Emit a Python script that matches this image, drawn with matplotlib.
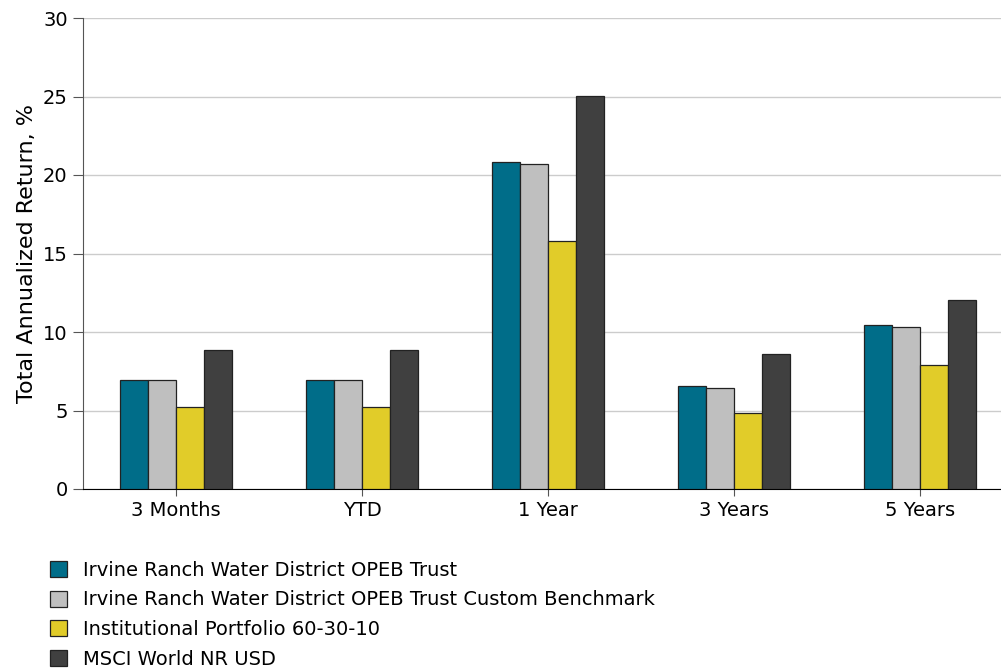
import numpy as np
import matplotlib
matplotlib.use("Agg")
import matplotlib.pyplot as plt
from matplotlib.patches import Patch

############### data ################
periods = ["3 Months", "YTD", "1 Year", "3 Years", "5 Years"]
series_names = [
    "Irvine Ranch Water District OPEB Trust",
    "Irvine Ranch Water District OPEB Trust Custom Benchmark",
    "Institutional Portfolio 60-30-10",
    "MSCI World NR USD",
]
trust = [6.94, 6.94, 20.83, 6.56, 10.45]
benchmark = [6.94, 6.94, 20.70, 6.43, 10.32]
portfolio = [5.22, 5.22, 15.80, 4.84, 7.90]
msci = [8.85, 8.85, 25.03, 8.60, 12.04]
colors = ["#006d89", "#bfbfbf", "#e1cc29", "#404040"]

############### plot ################
fig = plt.figure(figsize=(10.01, 6.69), dpi=100)
ax = fig.add_axes([83 / 1001, 180 / 669, 930 / 1001, 471 / 669])

x = np.arange(len(periods))
width = 0.15
all_series = [trust, benchmark, portfolio, msci]
for i, vals in enumerate(all_series):
    ax.bar(x + (i - 1.5) * width, vals, width, color=colors[i],
           edgecolor="#222222", linewidth=0.9, zorder=3)

ax.set_xlim(-0.5, len(periods) - 0.5)
ax.set_ylim(0, 30)
ax.set_yticks(np.arange(0, 31, 5))
ax.set_xticks(x)
ax.set_xticklabels(periods, fontsize=14)
ax.tick_params(axis="y", labelsize=14, length=7, pad=4, color="#555555")
ax.tick_params(axis="x", length=5, pad=4, color="#555555")
ax.yaxis.grid(True, color="#cccccc", linewidth=1, zorder=0)
ax.set_axisbelow(True)
ax.spines["top"].set_visible(False)
ax.spines["right"].set_visible(False)
ax.spines["left"].set_color("#555555")
ax.spines["bottom"].set_color("#000000")
ax.set_ylabel("Total Annualized Return, %", fontsize=16, labelpad=4)

handles = [Patch(facecolor=colors[i], edgecolor="#222222", linewidth=0.9,
                 label=series_names[i]) for i in range(4)]
fig.legend(handles=handles, loc="upper left", bbox_to_anchor=(0.040, 0.1765),
           frameon=False, fontsize=14, handlelength=0.9, handleheight=0.9,
           labelspacing=0.55, handletextpad=0.8, borderpad=0)

fig.savefig("out.png", dpi=100)
